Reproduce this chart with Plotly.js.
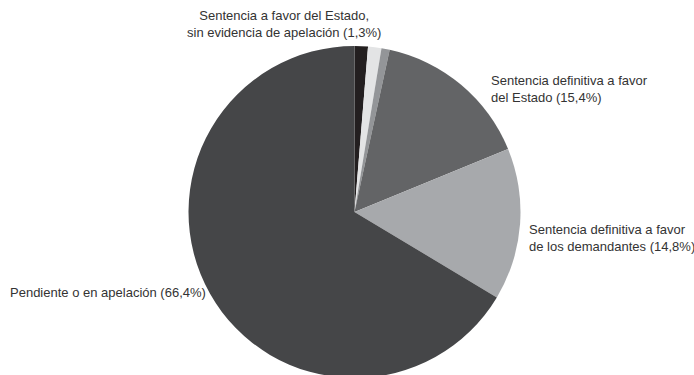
<!DOCTYPE html>
<html>
<head>
<meta charset="utf-8">
<script src="https://cdn.plot.ly/plotly-3.0.1.min.js"></script>
<style>
html,body{margin:0;padding:0;overflow:hidden;background:#fff;}
#chart{width:694px;height:382px;}
</style>
</head>
<body>
<div id="chart"></div>
<script>
// Data (clockwise from 12 o'clock)
const categories = [
  "Sentencia a favor del Estado, sin evidencia de apelación",
  "Otro (a)",
  "Otro (b)",
  "Sentencia definitiva a favor del Estado",
  "Sentencia definitiva a favor de los demandantes",
  "Pendiente o en apelación"
];
const values = [1.3, 1.3, 0.8, 15.4, 14.8, 66.4];
const sliceColors = ["#231f20", "#e3e4e5", "#939598", "#636466", "#a7a9ac", "#454648"];

// Label texts
const labelTexts = [
  "Sentencia a favor del Estado,<br>sin evidencia de apelación (1,3%)",
  "Sentencia definitiva a favor<br>del Estado (15,4%)",
  "Sentencia definitiva a favor<br>de los demandantes (14,8%)",
  "Pendiente o en apelación (66,4%)"
];

const W = 694, H = 382, mt = 46, mb = 4;
const ph = H - mt - mb;
function px2x(p){ return p / W; }
function px2y(p){ return (H - mb - p) / ph; }

const labelFont = {family: "Liberation Sans, Arial, sans-serif", size: 13, color: "#333333"};

const annotations = [
  {x: px2x(284), y: px2y(24), xanchor: "center", yanchor: "middle", align: "center", text: labelTexts[0]},
  {x: px2x(489), y: px2y(89.5), xanchor: "left", yanchor: "middle", align: "left", text: labelTexts[1]},
  {x: px2x(527), y: px2y(237.5), xanchor: "left", yanchor: "middle", align: "left", text: labelTexts[2]},
  {x: px2x(8), y: px2y(292), xanchor: "left", yanchor: "middle", align: "left", text: labelTexts[3]}
].map(a => Object.assign({xref: "paper", yref: "paper", showarrow: false, font: labelFont}, a));

const cx = 354.5, r = 166;
const trace = {
  type: "pie",
  labels: categories,
  values: values,
  sort: false,
  direction: "clockwise",
  rotation: 0,
  marker: {colors: sliceColors, line: {width: 0}},
  textinfo: "none",
  hoverinfo: "label+percent",
  showlegend: false,
  domain: {x: [(cx - r) / W, (cx + r) / W], y: [0, 1]}
};

const layout = {
  width: W, height: H,
  margin: {l: 0, r: 0, t: mt, b: mb},
  paper_bgcolor: "#ffffff",
  plot_bgcolor: "#ffffff",
  showlegend: false,
  annotations: annotations
};

Plotly.newPlot("chart", [trace], layout, {displayModeBar: false, staticPlot: true});
</script>
</body>
</html>
